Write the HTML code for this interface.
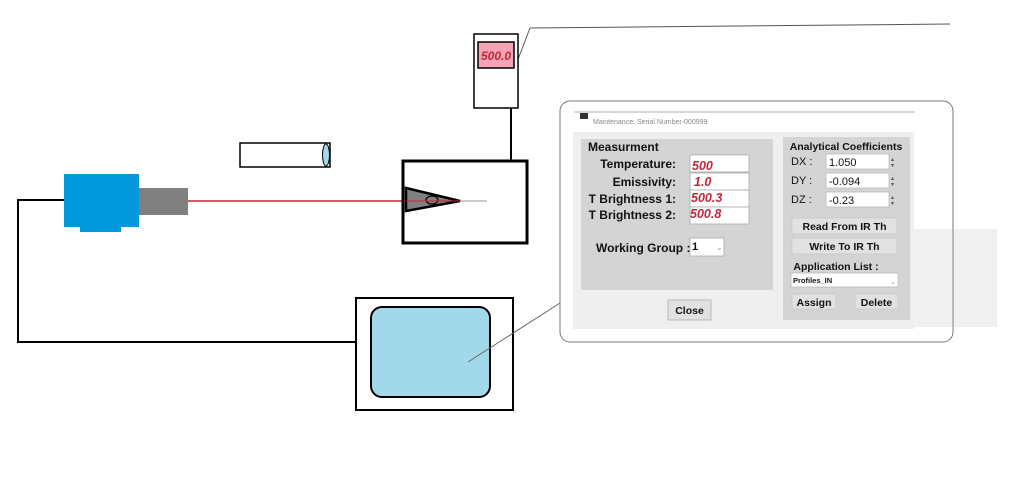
<!DOCTYPE html>
<html><head><meta charset="utf-8"><style>
html,body{margin:0;padding:0;background:#fff;}
svg{display:block;font-family:"Liberation Sans",Arial,sans-serif;}
</style></head><body>
<svg width="1024" height="502" viewBox="0 0 1024 502" xmlns="http://www.w3.org/2000/svg">
<rect width="1024" height="502" fill="#fff"/>
<polyline points="64,200 18,200 18,342 365,342" fill="none" stroke="#000" stroke-width="2"/>
<rect x="80" y="224" width="41" height="8" fill="#0098db"/>
<rect x="64" y="174" width="75" height="53" fill="#0098db"/>
<rect x="139" y="188" width="49" height="27" fill="#808080"/>
<line x1="188" y1="201" x2="440" y2="201" stroke="#c0282d" stroke-width="1.5"/>
<rect x="240" y="143" width="90" height="24" fill="#fff" stroke="#000" stroke-width="1.5"/>
<ellipse cx="326" cy="155" rx="3.5" ry="11" fill="#a2d9ea" stroke="#000" stroke-width="1"/>
<line x1="517" y1="62" x2="530" y2="28" stroke="#555" stroke-width="1"/>
<line x1="530" y1="28" x2="950" y2="24" stroke="#555" stroke-width="1"/>
<rect x="474" y="34" width="44" height="74" fill="#fff" stroke="#000" stroke-width="1.5"/>
<rect x="478" y="42" width="36" height="26" fill="#f4a4b4" stroke="#000" stroke-width="1.5"/>
<text x="496" y="60" text-anchor="middle" font-size="12" font-style="italic" font-weight="bold" fill="#c0283a">500.0</text>
<line x1="511" y1="108" x2="511" y2="160" stroke="#000" stroke-width="2"/>
<rect x="403" y="161" width="124" height="82" fill="#fff" stroke="#000" stroke-width="3"/>
<line x1="440" y1="201" x2="487" y2="201" stroke="#999" stroke-width="1"/>
<polygon points="406,188 460,201 406,211" fill="#808080" stroke="#000" stroke-width="2.5"/>
<ellipse cx="432" cy="200" rx="6" ry="4" fill="none" stroke="#000" stroke-width="1.2"/>
<line x1="406" y1="201" x2="460" y2="201" stroke="#c0282d" stroke-width="1"/>
<rect x="356" y="298" width="157" height="112" fill="#fff" stroke="#000" stroke-width="2"/>
<rect x="371" y="307" width="119" height="90" rx="11" fill="#a2d9ea" stroke="#000" stroke-width="2"/>
<line x1="468" y1="362" x2="560" y2="303" stroke="#666" stroke-width="1"/>
<rect x="905" y="229" width="92" height="98" fill="#f0f0f0"/>
<rect x="560" y="101" width="393" height="241" rx="10" fill="#fff" stroke="#777" stroke-width="1"/>
<rect x="905" y="229" width="47" height="98" fill="#f0f0f0"/>
<line x1="574" y1="112" x2="915" y2="112" stroke="#999" stroke-width="0.8"/>
<rect x="573" y="132" width="341" height="197" fill="#efefef"/>
<rect x="580" y="113" width="8" height="6" fill="#333"/>
<text x="593" y="124" font-size="7" fill="#888">Maintenance: Serial Number-000999</text>
<rect x="581" y="139" width="192" height="151" fill="#d4d4d4"/>
<text x="588" y="151" font-size="12" font-weight="bold" fill="#111">Measurment</text>
<g font-size="12" font-weight="bold" fill="#111" text-anchor="end">
<text x="676" y="168">Temperature:</text>
<text x="676" y="186">Emissivity:</text>
<text x="676" y="203">T Brightness 1:</text>
<text x="676" y="219">T Brightness 2:</text>
</g>
<g fill="#fff" stroke="#aaa" stroke-width="0.8">
<rect x="690" y="155" width="59" height="17"/>
<rect x="690" y="173" width="59" height="17"/>
<rect x="690" y="190" width="59" height="17"/>
<rect x="690" y="207" width="59" height="17"/>
</g>
<g font-size="12.5" font-weight="bold" font-style="italic" fill="#c0283a">
<text x="692" y="170">500</text>
<text x="694" y="186">1.0</text>
<text x="691" y="202">500.3</text>
<text x="690" y="218">500.8</text>
</g>
<text x="596" y="252" font-size="12" font-weight="bold" fill="#111">Working Group :</text>
<rect x="690" y="238" width="34" height="18" fill="#fff" stroke="#aaa" stroke-width="0.8"/>
<text x="692" y="250" font-size="11" font-weight="bold" fill="#111">1</text>
<text x="716" y="250" font-size="8" fill="#999">⌄</text>
<rect x="668" y="300" width="43" height="20" fill="#e1e1e1" stroke="#adadad" stroke-width="0.8"/>
<text x="689.5" y="314" text-anchor="middle" font-size="10.5" font-weight="bold" fill="#111">Close</text>
<rect x="783" y="137" width="127" height="183" fill="#d4d4d4"/>
<text x="846" y="150" text-anchor="middle" font-size="10.5" font-weight="bold" fill="#111">Analytical Coefficients</text>
<g font-size="11" fill="#111">
<text x="791" y="165">DX :</text>
<text x="791" y="184">DY :</text>
<text x="791" y="203">DZ :</text>
</g>
<g fill="#fff" stroke="#bbb" stroke-width="0.8">
<rect x="826" y="154" width="63" height="15"/>
<rect x="826" y="173" width="63" height="15"/>
<rect x="826" y="192" width="63" height="15"/>
</g>
<g font-size="11" fill="#111">
<text x="829" y="166">1.050</text>
<text x="829" y="185">-0.094</text>
<text x="829" y="204">-0.23</text>
</g>
<g fill="#555" font-size="6">
<text x="891" y="161">▴</text><text x="891" y="167">▾</text>
<text x="891" y="180">▴</text><text x="891" y="186">▾</text>
<text x="891" y="199">▴</text><text x="891" y="205">▾</text>
</g>
<rect x="792" y="218" width="105" height="16" fill="#e1e1e1" stroke="#c8c8c8" stroke-width="0.8"/>
<text x="844.5" y="230" text-anchor="middle" font-size="10.5" font-weight="bold" fill="#111">Read From IR Th</text>
<rect x="792" y="238" width="105" height="16" fill="#e1e1e1" stroke="#c8c8c8" stroke-width="0.8"/>
<text x="844.5" y="250" text-anchor="middle" font-size="10.5" font-weight="bold" fill="#111">Write To IR Th</text>
<text x="836" y="270" text-anchor="middle" font-size="10.5" font-weight="bold" fill="#111">Application List :</text>
<rect x="791" y="273" width="107" height="14" fill="#fff" stroke="#bbb" stroke-width="0.8"/>
<text x="793" y="283" font-size="7.5" font-weight="bold" fill="#111">Profiles_IN</text>
<text x="890" y="284" font-size="7" fill="#999">⌄</text>
<rect x="792" y="294" width="44" height="15" fill="#e1e1e1" stroke="#c8c8c8" stroke-width="0.8"/>
<text x="814" y="306" text-anchor="middle" font-size="10.5" font-weight="bold" fill="#111">Assign</text>
<rect x="855" y="294" width="43" height="15" fill="#e1e1e1" stroke="#c8c8c8" stroke-width="0.8"/>
<text x="876.5" y="306" text-anchor="middle" font-size="10.5" font-weight="bold" fill="#111">Delete</text>
</svg>
</body></html>
